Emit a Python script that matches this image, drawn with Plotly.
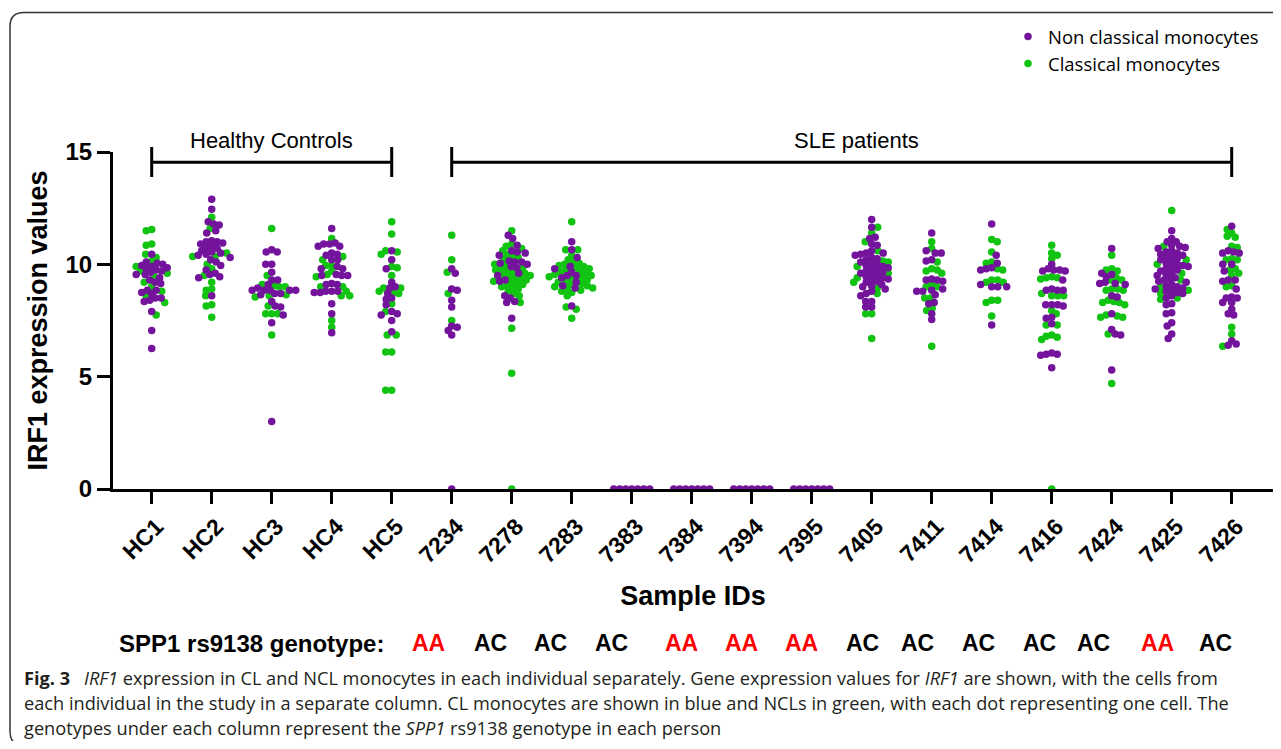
import numpy as np
import plotly.graph_objects as go

# ---------------- data ----------------
samples = ["HC1", "HC2", "HC3", "HC4", "HC5", "7234", "7278", "7283", "7383", "7384",
           "7394", "7395", "7405", "7411", "7414", "7416", "7424", "7425", "7426"]

# Non classical monocytes (purple)
hc1_ncl = [10.45, 10.1, 10.0, 10.05, 9.95, 9.9, 9.85, 9.8, 9.75, 9.7, 9.65, 9.55, 9.55, 9.4, 9.3, 9.2, 9.15,
           8.85, 8.85, 8.75, 8.7, 8.5, 8.5, 8.4, 8.35, 7.9, 7.05, 6.25]
hc2_ncl = [12.9, 12.45, 11.9, 11.8, 11.75, 11.5, 11.4, 11.05, 11.0, 11.0, 10.95, 10.9, 10.8, 10.75, 10.7,
           10.6, 10.55, 10.5, 10.45, 10.4, 10.3, 10.2, 10.1, 9.95, 9.75, 9.6, 9.55, 9.45, 9.4, 8.6]
hc3_ncl = [10.65, 10.55, 10.55, 10.0, 10.0, 9.65, 9.3, 9.3, 9.1, 8.95, 8.85, 8.85, 8.85, 8.85, 8.85, 8.7,
           8.65, 8.7, 8.35, 8.15, 8.1, 7.75, 7.4, 3.0]
hc4_ncl = [11.6, 10.95, 10.9, 10.8, 10.8, 10.9, 10.5, 10.45, 10.4, 10.2, 10.2, 9.8, 9.8, 9.9, 9.5, 9.5,
           9.5, 9.55, 9.1, 9.1, 9.15, 8.8, 8.8, 8.75, 8.75, 8.8, 8.25, 7.8, 6.95]
hc5_ncl = [10.6, 10.2, 9.8, 9.2, 9.0, 8.95, 8.7, 8.5, 8.45, 8.2, 7.9, 7.8, 7.75, 7.5, 7.0]
s7234_ncl = [9.6, 9.8, 8.85, 8.9, 8.4, 8.1, 7.25, 7.2, 6.85, 7.05, 0.0]
s7278_ncl = [11.3, 11.15, 10.85, 10.6, 10.5, 10.55, 10.4, 10.15, 10.1, 10.05, 10.1, 10.0, 9.9, 9.85, 9.6,
             9.5, 9.25, 9.3, 8.5, 8.6, 8.3, 8.35, 7.6]
s7283_ncl = [11.0, 10.65, 10.3, 9.9, 9.5, 9.8, 9.4, 9.5, 9.65, 9.2, 9.05, 8.95, 8.15]
s7383_ncl = [0.0, 0.0, 0.0, 0.0, 0.0, 0.0, 0.0]
s7384_ncl = [0.0, 0.0, 0.0, 0.0, 0.0, 0.0, 0.0]
s7394_ncl = [0.0, 0.0, 0.0, 0.0, 0.0, 0.0, 0.0]
s7395_ncl = [0.0, 0.0, 0.0, 0.0, 0.0, 0.0, 0.0]
s7405_ncl = [12.0, 11.65, 11.2, 11.15, 10.9, 10.85, 10.6, 10.5, 10.5, 10.45, 10.4, 10.3, 10.25, 10.2, 10.1,
             10.05, 10.0, 9.95, 9.9, 9.85, 9.8, 9.75, 9.7, 9.65, 9.6, 9.55, 9.5, 9.45, 9.4, 9.35, 9.3,
             9.25, 9.2, 9.1, 9.05, 9.0, 8.9, 8.8, 8.7, 8.6, 8.35, 8.35, 8.1, 8.1]
s7411_ncl = [11.4, 10.5, 10.5, 10.6, 10.2, 10.15, 9.3, 9.35, 9.3, 9.25, 8.8, 8.9, 8.8, 8.85, 8.65, 8.3,
             8.25, 7.8, 7.55]
s7414_ncl = [11.8, 10.4, 10.05, 9.85, 9.8, 9.75, 9.0, 9.0, 9.1, 9.0, 7.3]
s7416_ncl = [10.0, 9.75, 9.7, 9.7, 9.75, 9.8, 9.3, 8.85, 8.85, 8.85, 8.9, 8.2, 8.15, 8.2, 8.2, 7.65, 7.6,
             7.35, 6.0, 5.95, 6.0, 6.05, 5.4]
s7424_ncl = [10.7, 9.6, 9.45, 9.55, 9.1, 9.15, 9.15, 9.2, 8.6, 8.55, 7.8, 6.9, 6.85, 7.1, 5.3]
s7425_ncl = [11.5, 11.15, 11.0, 11.0, 10.85, 10.8, 10.75, 10.7, 10.6, 10.55, 10.5, 10.45, 10.4, 10.35,
             10.3, 10.25, 10.2, 10.1, 10.05, 10.0, 9.95, 9.9, 9.85, 9.8, 9.75, 9.7, 9.6, 9.55, 9.5, 9.4,
             9.35, 9.3, 9.25, 9.2, 9.1, 9.05, 9.0, 8.95, 8.9, 8.85, 8.8, 8.75, 8.7, 8.6, 8.5, 8.2, 8.25,
             7.8, 7.85, 7.4, 7.25, 6.9, 6.7]
s7426_ncl = [11.7, 10.55, 10.5, 10.6, 10.5, 10.0, 10.0, 9.7, 9.3, 9.25, 9.3, 8.9, 8.5, 8.5, 8.55, 8.3,
             8.3, 8.0, 7.8, 7.75, 6.6, 6.4, 6.45]

# Classical monocytes (green)
hc1_cl = [11.55, 11.5, 10.9, 10.85, 10.45, 10.3, 10.15, 9.9, 9.7, 9.6, 9.45, 9.2, 9.0, 8.8, 8.6, 8.3, 7.75]
hc2_cl = [12.1, 11.6, 10.5, 10.35, 10.35, 10.0, 9.8, 9.5, 9.2, 8.9, 8.85, 8.6, 8.2, 8.15, 7.65]
hc3_cl = [11.6, 9.5, 9.1, 9.05, 9.0, 9.0, 8.6, 8.55, 8.65, 8.15, 7.8, 7.8, 7.8, 6.85]
hc4_cl = [11.15, 10.35, 10.2, 9.95, 9.95, 9.55, 9.45, 9.7, 9.0, 9.0, 8.6, 8.6, 8.8, 7.5, 7.2]
hc5_cl = [11.9, 11.35, 10.55, 10.6, 10.45, 9.9, 9.5, 9.85, 8.95, 8.95, 8.8, 8.75, 8.7, 8.25, 7.9, 6.85,
          6.85, 6.1, 6.1, 4.4, 4.4]
s7234_cl = [11.3, 10.2, 9.65, 8.7, 7.5]
s7278_cl = [11.5, 10.9, 10.8, 10.7, 10.6, 10.45, 10.35, 10.3, 10.25, 10.0, 9.95, 9.85, 9.8, 9.75, 9.7,
            9.65, 9.6, 9.55, 9.5, 9.45, 9.4, 9.35, 9.3, 9.25, 9.2, 9.15, 9.1, 9.05, 9.0, 8.95, 8.9, 8.8,
            8.7, 8.6, 8.3, 7.15, 5.15, 0.0]
s7283_cl = [11.9, 10.65, 10.65, 10.4, 10.2, 10.1, 10.05, 10.0, 9.95, 9.9, 9.85, 9.8, 9.75, 9.7, 9.65,
            9.6, 9.55, 9.5, 9.45, 9.4, 9.35, 9.3, 9.25, 9.2, 9.15, 9.1, 9.05, 9.0, 8.95, 8.9, 8.85, 8.8,
            8.75, 8.6, 8.1, 8.0, 7.6]
s7383_cl = []
s7384_cl = []
s7394_cl = []
s7395_cl = []
s7405_cl = [11.65, 11.4, 11.0, 10.6, 10.15, 10.1, 9.9, 9.6, 9.4, 9.2, 8.95, 8.7, 7.8, 7.8, 6.7]
s7411_cl = [11.0, 10.7, 10.1, 9.75, 9.8, 9.7, 9.6, 9.1, 9.0, 9.0, 8.5, 8.5, 8.05, 7.95, 6.35]
s7414_cl = [11.1, 11.0, 10.55, 10.1, 10.05, 9.8, 9.75, 9.3, 9.3, 9.2, 9.2, 8.4, 8.3, 8.4, 7.7]
s7416_cl = [10.85, 10.5, 10.4, 10.25, 9.4, 9.35, 9.4, 9.45, 8.6, 8.6, 8.6, 8.7, 7.95, 7.8, 7.3, 7.3, 6.85,
            6.8, 6.75, 6.65, 0.0]
s7424_cl = [10.4, 9.7, 9.8, 9.75, 9.3, 9.3, 9.4, 8.9, 8.9, 8.85, 8.85, 8.3, 8.35, 8.4, 8.2, 8.3, 7.7,
            7.65, 7.65, 7.75, 6.9, 4.7]
s7425_cl = [12.4, 10.8, 10.2, 10.0, 9.6, 9.3, 9.0, 8.85, 8.7, 8.5, 8.45]
s7426_cl = [11.55, 11.4, 11.2, 11.25, 10.75, 10.8, 10.2, 10.2, 10.25, 9.8, 9.75, 9.6, 9.5, 9.0, 9.05,
            7.2, 6.9, 6.35]

ncl_by_sample = [hc1_ncl, hc2_ncl, hc3_ncl, hc4_ncl, hc5_ncl, s7234_ncl, s7278_ncl, s7283_ncl,
                 s7383_ncl, s7384_ncl, s7394_ncl, s7395_ncl, s7405_ncl, s7411_ncl, s7414_ncl,
                 s7416_ncl, s7424_ncl, s7425_ncl, s7426_ncl]
cl_by_sample = [hc1_cl, hc2_cl, hc3_cl, hc4_cl, hc5_cl, s7234_cl, s7278_cl, s7283_cl,
                s7383_cl, s7384_cl, s7394_cl, s7395_cl, s7405_cl, s7411_cl, s7414_cl,
                s7416_cl, s7424_cl, s7425_cl, s7426_cl]

y_ticks = [0, 5, 10, 15]
genotypes = ["AA", "AC", "AC", "AC", "AA", "AA", "AA", "AC", "AC", "AC", "AC", "AC", "AA", "AC"]
group_labels = ["Healthy Controls", "SLE patients"]

# ---------------- layout constants (pixels of the page) ----------------
OFF = 8                      # default body margin of the html page
W, H = 1281 - 2 * OFF, 749 - 2 * OFF
PL, PR, PT, PB = 113 - OFF, 1273 - OFF, 152 - OFF, 489 - OFF
PX_X = 60.0                                  # pixels per category
X0 = -(151.7 - 113) / PX_X
X1 = X0 + (PR - PL) / PX_X
PX_Y = (PB - PT) / 15.0

PURPLE = "#74139C"
GREEN = "#12C412"
FONT = "Liberation Sans, Arial, sans-serif"
CAP_FONT = "Open Sans, Noto Sans, sans-serif"


def paper_x(page_x):
    return (page_x - OFF - PL) / (PR - PL)


def paper_y(page_y):
    return (PB - (page_y - OFF)) / (PB - PT)


def swarm(vals, d=5.6):
    """Beeswarm offsets (in category units) for one column."""
    ys = np.asarray(vals, dtype=float) * PX_Y
    order = np.argsort(-ys, kind="stable")
    px_list, py_list = [], []
    offs = np.zeros(len(vals))
    for n, i in enumerate(order):
        y = ys[i]
        chosen = None
        k = 0
        while chosen is None:
            s = k * 0.5
            cands = (s, -s) if n % 2 == 0 else (-s, s)
            for c in cands:
                ok = True
                for qx, qy in zip(px_list, py_list):
                    dy = y - qy
                    if abs(dy) < d and (c - qx) ** 2 + dy ** 2 < d * d - 1e-9:
                        ok = False
                        break
                if ok:
                    chosen = c
                    break
            k += 1
        offs[i] = chosen
        px_list.append(chosen)
        py_list.append(y)
    return offs / PX_X


ncl_x, ncl_y, cl_x, cl_y = [], [], [], []
for idx, (a, b) in enumerate(zip(ncl_by_sample, cl_by_sample)):
    allv = list(a) + list(b)
    if not allv:
        continue
    off = swarm(allv)
    for j, v in enumerate(allv):
        if j < len(a):
            ncl_x.append(idx + off[j]); ncl_y.append(v)
        else:
            cl_x.append(idx + off[j]); cl_y.append(v)

fig = go.Figure()
fig.add_trace(go.Scatter(x=cl_x, y=cl_y, mode="markers", name="Classical monocytes",
                         marker=dict(color=GREEN, size=7.5, line=dict(width=0))))
fig.add_trace(go.Scatter(x=ncl_x, y=ncl_y, mode="markers", name="Non classical monocytes",
                         marker=dict(color=PURPLE, size=7.5, line=dict(width=0))))

fig.update_layout(
    width=W, height=H,
    margin=dict(l=PL, r=W - PR, t=PT, b=H - PB, autoexpand=False),
    paper_bgcolor="white", plot_bgcolor="white",
    font=dict(family=FONT, color="black"),
    showlegend=True,
    legend=dict(x=paper_x(1008), y=paper_y(18), xanchor="left", yanchor="top",
                traceorder="reversed", font=dict(family=CAP_FONT, size=18.5, color="black"),
                bgcolor="rgba(0,0,0,0)", itemwidth=30),
    xaxis=dict(range=[X0, X1], tickmode="array", tickvals=list(range(len(samples))),
               ticktext=samples, tickangle=-45, ticks="outside", ticklen=12, tickwidth=3,
               tickcolor="black", showline=True, linewidth=3, linecolor="black",
               showgrid=False, zeroline=False, automargin=False, ticklabelshift=5,
               tickfont=dict(family=FONT, size=23, color="black", weight="bold"),
               title=dict(text="Sample IDs", standoff=20,
                          font=dict(family=FONT, size=27, color="black", weight="bold"))),
    yaxis=dict(range=[0, 15], tickmode="array", tickvals=y_ticks, ticks="outside", ticklen=13,
               tickwidth=3, tickcolor="black", showline=True, linewidth=3, linecolor="black",
               showgrid=False, zeroline=False, automargin=False,
               tickfont=dict(family=FONT, size=24, color="black", weight="bold"),
               title=dict(text="IRF1 expression values", standoff=11,
                          font=dict(family=FONT, size=27, color="black", weight="bold"))),
)

shapes = []
# group brackets
for (a, b) in [(0, 4), (5, 18)]:
    shapes.append(dict(type="line", xref="x", yref="paper", x0=a, x1=b,
                       y0=paper_y(162.3), y1=paper_y(162.3), line=dict(color="black", width=3)))
    for e in (a, b):
        shapes.append(dict(type="line", xref="x", yref="paper", x0=e, x1=e,
                           y0=paper_y(147), y1=paper_y(177), line=dict(color="black", width=3)))

# outer rounded frame
L_, T_, B_, R_, r = 10, 12.5, 745.5, 1300, 14
path = (f"M {paper_x(R_)},{paper_y(T_)} L {paper_x(L_ + r)},{paper_y(T_)} "
        f"Q {paper_x(L_)},{paper_y(T_)} {paper_x(L_)},{paper_y(T_ + r)} "
        f"L {paper_x(L_)},{paper_y(B_ - r)} "
        f"Q {paper_x(L_)},{paper_y(B_)} {paper_x(L_ + r)},{paper_y(B_)} "
        f"L {paper_x(R_)},{paper_y(B_)}")
shapes.append(dict(type="path", xref="paper", yref="paper", path=path,
                   line=dict(color="#333333", width=1.5)))
fig.update_layout(shapes=shapes)

ann = []
ann.append(dict(text=group_labels[0], xref="x", yref="paper", x=2, y=paper_y(140),
                xanchor="center", yanchor="middle",
                showarrow=False, font=dict(family=FONT, size=22, color="black")))
ann.append(dict(text=group_labels[1], xref="x", yref="paper", x=11.75, y=paper_y(140),
                xanchor="center", yanchor="middle",
                showarrow=False, font=dict(family=FONT, size=22, color="black")))

# genotype row
geno_px = [428, 490, 550, 611, 681, 741, 801, 862, 917, 978, 1039, 1093, 1157, 1215]
ann.append(dict(text="<b>SPP1 rs9138 genotype:</b>", xref="paper", yref="paper",
                x=paper_x(251), y=paper_y(643), xanchor="center", yanchor="middle",
                showarrow=False, font=dict(family=FONT, size=24, color="black")))
for g, gx in zip(genotypes, geno_px):
    ann.append(dict(text=f"<b>{g}</b>", xref="paper", yref="paper", x=paper_x(gx), y=paper_y(643),
                    xanchor="center", yanchor="middle", showarrow=False,
                    font=dict(family=FONT, size=23, color="#FF0000" if g == "AA" else "black")))

# caption
cap = [
    "<b>Fig. 3</b>\u2002 <i>IRF1</i> expression in CL and NCL monocytes in each individual separately. "
    "Gene expression values for <i>IRF1</i> are shown, with the cells from",
    "each individual in the study in a separate column. CL monocytes are shown in blue and NCLs in "
    "green, with each dot representing one cell. The",
    "genotypes under each column represent the <i>SPP1</i> rs9138 genotype in each person",
]
for line, cy in zip(cap, [678, 703, 728]):
    ann.append(dict(text=line, xref="paper", yref="paper", x=paper_x(22), y=paper_y(cy),
                    xanchor="left", yanchor="middle", showarrow=False,
                    font=dict(family=CAP_FONT, size=18.2, color="#231F20")))
fig.update_layout(annotations=ann)

fig.write_html("out.html")
